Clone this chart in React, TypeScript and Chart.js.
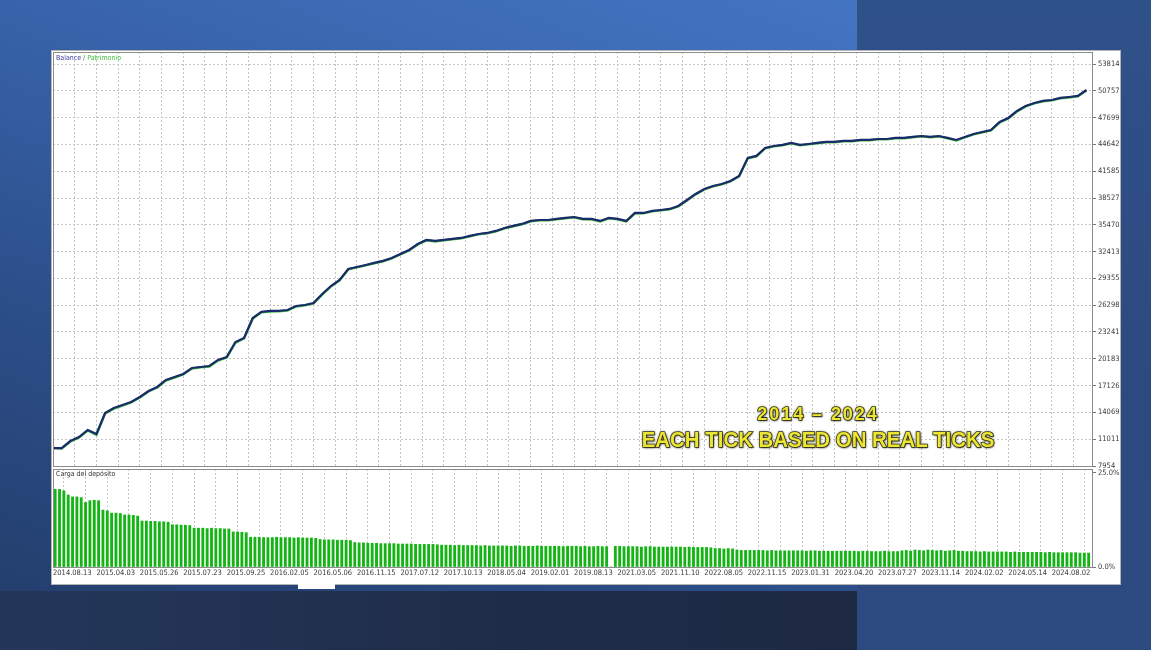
import React, { useEffect, useRef } from "react";
import { Chart, registerables } from "chart.js";
Chart.register(...registerables);

const xLabels = [
  "2014.08.13", "2015.04.03", "2015.05.26", "2015.07.23", "2015.09.25", "2016.02.05",
  "2016.05.06", "2016.11.15", "2017.07.12", "2017.10.13", "2018.05.04", "2019.02.01",
  "2019.08.13", "2021.03.05", "2021.11.10", "2022.08.05", "2022.11.15", "2023.01.31",
  "2023.04.20", "2023.07.27", "2023.11.14", "2024.02.02", "2024.05.14", "2024.08.02",
];

const yTicks = [7954, 11011, 14069, 17126, 20183, 23241, 26298, 29355, 32413, 35470, 38527, 41585, 44642, 47699, 50757, 53814];
const loadTicks = [0, 25];

const balance = [
  10000, 10000, 10800, 11260, 12060, 11600, 14000, 14570, 14910, 15260,
  15830, 16510, 16970, 17770, 18110, 18450, 19140, 19250, 19360, 20050,
  20390, 22100, 22560, 24840, 25530, 25640, 25640, 25750, 26210, 26320,
  26550, 27580, 28490, 29180, 30430, 30660, 30890, 31120, 31350, 31690,
  32140, 32600, 33280, 33740, 33630, 33740, 33860, 33970, 34200, 34420,
  34540, 34770, 35110, 35340, 35570, 35910, 36020, 36020, 36140, 36250,
  36360, 36140, 36140, 35910, 36250, 36140, 35910, 36820, 36820, 37050,
  37160, 37280, 37620, 38300, 38990, 39560, 39900, 40130, 40470, 41040,
  43100, 43330, 44240, 44460, 44580, 44810, 44580, 44690, 44810, 44920,
  44920, 45040, 45040, 45150, 45150, 45260, 45260, 45380, 45380, 45490,
  45600, 45490, 45600, 45380, 45150, 45490, 45830, 46060, 46290, 47200,
  47660, 48460, 49030, 49370, 49600, 49710, 49940, 50050, 50170, 50850,
];

const equity = [
  10000, 9950, 10750, 11200, 12000, 11500, 13950, 14500, 14850, 15200,
  15780, 16450, 16900, 17700, 18050, 18400, 19080, 19200, 19300, 19980,
  20330, 22000, 22500, 24780, 25480, 25560, 25600, 25680, 26150, 26280,
  26500, 27500, 28420, 29120, 30380, 30620, 30850, 31080, 31300, 31640,
  32100, 32550, 33220, 33700, 33560, 33700, 33820, 33930, 34150, 34380,
  34500, 34720, 35060, 35300, 35530, 35860, 35980, 35970, 36100, 36200,
  36320, 36100, 36080, 35850, 36200, 36100, 35850, 36760, 36780, 37000,
  37120, 37230, 37570, 38240, 38940, 39500, 39850, 40080, 40420, 40980,
  43050, 43280, 44180, 44420, 44530, 44760, 44530, 44650, 44770, 44880,
  44880, 45000, 45000, 45110, 45110, 45220, 45220, 45330, 45340, 45450,
  45560, 45450, 45550, 45330, 45100, 45450, 45780, 46010, 46240, 47140,
  47610, 48400, 48980, 49320, 49560, 49670, 49900, 50000, 50120, 50800,
];

const depositLoad = [
  20.6, 20.6, 20.2, 19.1, 18.6, 18.6, 18.4, 17.1, 17.6, 17.7,
  17.6, 15.1, 14.9, 14.3, 14.3, 14.2, 13.8, 13.8, 13.7, 13.5,
  12.2, 12.2, 12.1, 12.1, 12.0, 12.0, 11.9, 11.2, 11.2, 11.1,
  11.1, 11.0, 10.3, 10.3, 10.3, 10.2, 10.3, 10.2, 10.2, 10.1,
  10.1, 9.3, 9.3, 9.2, 9.1, 7.9, 7.9, 7.9, 7.8, 7.8,
  7.8, 7.9, 7.8, 7.8, 7.8, 7.7, 7.8, 7.7, 7.7, 7.7,
  7.6, 7.3, 7.2, 7.2, 7.2, 7.1, 7.1, 7.1, 7.0, 6.5,
  6.4, 6.4, 6.3, 6.3, 6.3, 6.2, 6.2, 6.2, 6.2, 6.1,
  6.1, 6.1, 6.1, 6.0, 6.0, 6.0, 6.0, 6.0, 5.9, 5.8,
  5.8, 5.8, 5.7, 5.8, 5.7, 5.7, 5.7, 5.7, 5.6, 5.7,
  5.6, 5.6, 5.6, 5.6, 5.6, 5.5, 5.6, 5.6, 5.5, 5.5,
  5.5, 5.6, 5.5, 5.5, 5.5, 5.5, 5.5, 5.4, 5.5, 5.5,
  5.5, 5.4, 5.5, 5.4, 5.4, 5.5, 5.4, 5.4, 0, 5.5,
  5.5, 5.4, 5.4, 5.4, 5.4, 5.3, 5.4, 5.4, 5.3, 5.3,
  5.3, 5.3, 5.3, 5.3, 5.3, 5.2, 5.3, 5.2, 5.2, 5.2,
  5.2, 5.1, 4.9, 4.9, 4.8, 4.9, 4.8, 4.5, 4.4, 4.4,
  4.4, 4.4, 4.4, 4.4, 4.3, 4.4, 4.3, 4.3, 4.3, 4.3,
  4.3, 4.3, 4.3, 4.2, 4.3, 4.3, 4.2, 4.2, 4.2, 4.2,
  4.2, 4.2, 4.2, 4.2, 4.2, 4.1, 4.2, 4.2, 4.1, 4.1,
  4.1, 4.2, 4.1, 4.1, 4.1, 4.3, 4.4, 4.2, 4.5, 4.4,
  4.3, 4.5, 4.4, 4.3, 4.4, 4.2, 4.3, 4.4, 4.2, 4.2,
  4.1, 4.1, 4.1, 4.0, 4.1, 4.0, 4.0, 4.0, 4.0, 4.0,
  3.9, 4.0, 3.9, 3.9, 3.9, 3.9, 3.9, 3.9, 3.8, 3.9,
  3.8, 3.8, 3.8, 3.8, 3.8, 3.8, 3.7, 3.7, 3.7,
];

const FONT = "'Liberation Sans Narrow','DejaVu Sans Condensed','Liberation Sans',sans-serif";
const GRID = "#c4c4c4";
const X_MAX = 479;

const framePlugin = {
  id: "frame",
  afterDraw(chart: any) {
    const { ctx, chartArea: a } = chart;
    ctx.save();
    ctx.strokeStyle = "#8c8c8c";
    ctx.lineWidth = 1;
    ctx.strokeRect(Math.round(a.left) + 0.5, Math.round(a.top) + 0.5, Math.round(a.right - a.left) - 1, Math.round(a.bottom - a.top));
    ctx.restore();
  },
};

function xScale(showLabels: boolean) {
  return {
    type: "linear",
    min: 0,
    max: X_MAX,
    offset: false,
    afterBuildTicks: (s: any) => {
      const t = [];
      for (let k = 0; k * 10 <= X_MAX; k++) t.push({ value: k * 10 });
      s.ticks = t;
    },
    afterFit: (s: any) => {
      s.height = showLabels ? 16 : 0;
    },
    ticks: {
      display: showLabels,
      autoSkip: false,
      maxRotation: 0,
      align: "start",
      padding: 2,
      color: "#3a3a3a",
      font: { family: FONT, size: 7.5 },
      callback: (v: number) => (v % 20 === 0 ? xLabels[v / 20] ?? "" : ""),
    },
    grid: { color: GRID, drawTicks: false, tickBorderDash: [1, 0] },
    border: { display: false, dash: [2, 2] },
  };
}

export default function App() {
  const topRef = useRef<HTMLCanvasElement>(null);
  const botRef = useRef<HTMLCanvasElement>(null);

  useEffect(() => {
    const top = new Chart(topRef.current!, {
      type: "line",
      data: {
        datasets: [
          {
            label: "Balance",
            data: balance.map((v, i) => ({ x: i * 4, y: v })),
            borderColor: "#1b2a6b",
            borderWidth: 2.2,
            pointRadius: 0,
            tension: 0,
          },
          {
            label: "Patrimonio",
            data: equity.map((v, i) => ({ x: i * 4, y: v })),
            borderColor: "#3fbf3f",
            borderWidth: 2.4,
            pointRadius: 0,
            tension: 0,
          },
        ],
      },
      options: {
        animation: false,
        responsive: false,
        events: [],
        layout: { padding: { left: 8, right: 4, top: 8, bottom: 8 } },
        plugins: { legend: { display: false }, tooltip: { enabled: false } },
        scales: {
          x: xScale(false) as any,
          y: {
            position: "right",
            min: 7954,
            max: 55183,
            afterBuildTicks: (s: any) => {
              s.ticks = yTicks.map((v) => ({ value: v }));
            },
            afterFit: (s: any) => {
              s.width = 28;
            },
            ticks: {
              color: "#3a3a3a",
              padding: 2,
              font: { family: FONT, size: 7.5 },
              callback: (v: number) => String(v),
            },
            grid: { color: GRID, tickColor: "#777", tickLength: 3, tickBorderDash: [1, 0] },
            border: { display: false, dash: [2, 2] },
          },
        },
      },
      plugins: [framePlugin],
    });

    const bot = new Chart(botRef.current!, {
      type: "bar",
      data: {
        datasets: [
          {
            label: "Carga del depósito",
            data: depositLoad.map((v, j) => ({ x: j * 2 + 1, y: v })),
            backgroundColor: "#14b414",
            borderWidth: 0,
            barThickness: 2.2,
          },
        ],
      },
      options: {
        animation: false,
        responsive: false,
        events: [],
        layout: { padding: { left: 8, right: 4, top: 7, bottom: 7 } },
        plugins: { legend: { display: false }, tooltip: { enabled: false } },
        scales: {
          x: xScale(true) as any,
          y: {
            position: "right",
            min: 0,
            max: 26,
            afterBuildTicks: (s: any) => {
              s.ticks = loadTicks.map((v) => ({ value: v }));
            },
            afterFit: (s: any) => {
              s.width = 28;
            },
            ticks: {
              color: "#3a3a3a",
              padding: 2,
              font: { family: FONT, size: 7.5 },
              callback: (v: number) => v.toFixed(1) + "%",
            },
            grid: { drawOnChartArea: false, tickColor: "#777", tickLength: 3 },
            border: { display: false },
          },
        },
      },
      plugins: [framePlugin],
    });

    return () => {
      top.destroy();
      bot.destroy();
    };
  }, []);

  const overlay: React.CSSProperties = {
    position: "absolute",
    left: 818,
    transform: "translateX(-50%) scaleX(0.95)",
    whiteSpace: "nowrap",
    fontFamily: "'Liberation Sans', Arial, sans-serif",
    fontWeight: 700,
    color: "#ece531",
    WebkitTextStroke: "1.6px #3b3a14",
    paintOrder: "stroke fill",
    textShadow: "0 0 3px rgba(40,40,20,0.9), 1px 1px 2px rgba(0,0,0,0.6)",
    lineHeight: 1,
  } as any;

  return (
    <div style={{ position: "absolute", left: 0, top: 0, width: 1151, height: 650, overflow: "hidden", background: "#2d4c84" }}>
      <div style={{ position: "absolute", left: 0, top: 0, width: 857, height: 591, background: "linear-gradient(200deg, #4475c3 0%, #3863aa 35%, #2b4d87 70%, #243f6e 100%)" }} />
      <div style={{ position: "absolute", left: 0, top: 591, width: 857, height: 59, background: "linear-gradient(90deg, #24375b 0%, #1f2c48 60%, #1e2a44 100%)" }} />
      <div style={{ position: "absolute", left: 857, top: 0, width: 294, height: 650, background: "linear-gradient(180deg, #2f5189 0%, #2c4a80 60%, #2d4b80 100%)" }} />
      <div style={{ position: "absolute", left: 51, top: 50, width: 1070, height: 535, background: "#ffffff", border: "1px solid #b4b4b4", boxSizing: "border-box" }} />
      <div style={{ position: "absolute", left: 298, top: 584, width: 37, height: 5, background: "#ffffff" }} />
      <canvas ref={topRef} width={1080} height={430} style={{ position: "absolute", left: 45, top: 44, width: 1080, height: 430 }} />
      <canvas ref={botRef} width={1080} height={128} style={{ position: "absolute", left: 45, top: 462, width: 1080, height: 128 }} />
      <div style={{ position: "absolute", left: 56, top: 55, fontFamily: FONT, fontSize: 7, lineHeight: 1, whiteSpace: "nowrap" }}>
        <span style={{ color: "#3a3aa0" }}>Balance</span>
        <span style={{ color: "#666" }}> / </span>
        <span style={{ color: "#3fbf3f" }}>Patrimonio</span>
      </div>
      <div style={{ position: "absolute", left: 56, top: 471, fontFamily: FONT, fontSize: 7, lineHeight: 1, color: "#333", whiteSpace: "nowrap" }}>
        Carga del depósito
      </div>
      <div style={{ ...overlay, top: 404, fontSize: 19, letterSpacing: 2 }}>2014 – 2024</div>
      <div style={{ ...overlay, top: 430, fontSize: 21.5 }}>EACH TICK BASED ON REAL TICKS</div>
    </div>
  );
}
